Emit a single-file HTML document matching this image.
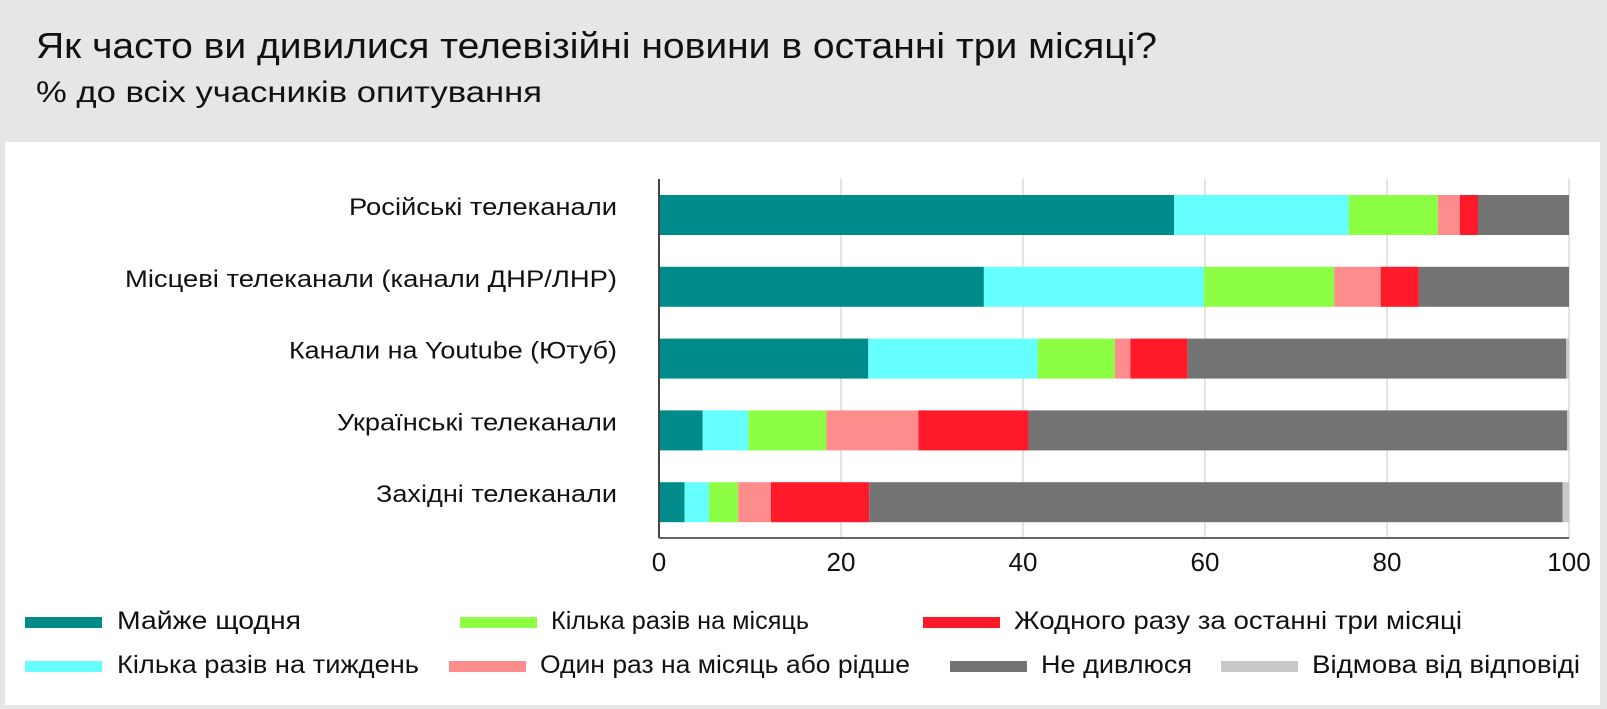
<!DOCTYPE html>
<html><head><meta charset="utf-8"><style>
html,body{margin:0;padding:0;background:#e6e6e6;}
svg{display:block;font-family:"Liberation Sans",sans-serif;}
</style></head><body>
<svg width="1607" height="709" viewBox="0 0 1607 709">
<rect x="0" y="0" width="1607" height="709" fill="#e6e6e6"/>
<text x="36" y="58" font-size="36" fill="#111" textLength="1121" lengthAdjust="spacingAndGlyphs">Як часто ви дивилися телевізійні новини в останні три місяці?</text>
<text x="36" y="102" font-size="30" fill="#111" textLength="506" lengthAdjust="spacingAndGlyphs">% до всіх учасників опитування</text>
<rect x="5" y="142" width="1595" height="563" fill="#fff"/>
<g id="grid"></g>
<g id="bars"></g>
<g id="labels"></g>
<g id="legend"></g>
</svg>
<script>
const categories=["Російські телеканали","Місцеві телеканали (канали ДНР/ЛНР)","Канали на Youtube (Ютуб)","Українські телеканали","Західні телеканали"];
const seriesNames=["Майже щодня","Кілька разів на тиждень","Кілька разів на місяць","Один раз на місяць або рідше","Жодного разу за останні три місяці","Не дивлюся","Відмова від відповіді"];
const almostDaily=[56.6,35.7,23.0,4.8,2.8];
const severalWeek=[19.2,24.2,18.6,5.0,2.7];
const severalMonth=[9.8,14.3,8.5,8.6,3.2];
const onceMonth=[2.4,5.1,1.7,10.1,3.6];
const never3m=[2.0,4.2,6.3,12.1,10.8];
const dontWatch=[10.0,16.5,41.6,59.2,76.2];
const refused=[0,0,0.3,0.2,0.7];
const ticks=[0,20,40,60,80,100];
const colors=["#008b8b","#66ffff","#8cff44","#ff8c8c","#ff1a2a","#737373","#c8c8c8"];
const labelWidths=[268,492,328,280,241];
const NS="http://www.w3.org/2000/svg";
const x0=659,x1=1569,yTop=179,yBot=538;
const xs=v=>x0+(x1-x0)*v/100;
const yRow=i=>195+i*71.8;
const barH=40;
function mk(tag,attrs,parent){const e=document.createElementNS(NS,tag);for(const k in attrs)e.setAttribute(k,attrs[k]);parent.appendChild(e);return e;}
const grid=document.getElementById('grid');
ticks.forEach(t=>{
  if(t>0){const l=mk('line',{x1:xs(t),x2:xs(t),y1:yTop,y2:yBot,stroke:'#dcdcdc','stroke-width':1.5},grid);
  
  }
  const tx=mk('text',{x:xs(t),y:571,'font-size':26,'text-anchor':'middle',fill:'#111'},grid);
  tx.textContent=t;
  
  
});
const series=[almostDaily,severalWeek,severalMonth,onceMonth,never3m,dontWatch,refused];
const bars=document.getElementById('bars');
categories.forEach((c,i)=>{
  let acc=0;
  series.forEach((s,j)=>{
    const v=s[i];
    if(v>0){const r=mk('rect',{x:xs(acc),y:yRow(i),width:xs(acc+v)-xs(acc),height:barH,fill:colors[j]},bars);
    
    }
    acc+=v;
  });
  const lb=mk('text',{x:617,y:yRow(i)+20,'font-size':24,'text-anchor':'end',fill:'#111',textLength:labelWidths[i],lengthAdjust:'spacingAndGlyphs'},document.getElementById('labels'));
  lb.textContent=c;
  
  
});
const ax=mk('line',{x1:x0,x2:x0,y1:yTop,y2:yBot,stroke:'#444','stroke-width':2},bars);


const axb=mk('line',{x1:x0,x2:x1,y1:yBot,y2:yBot,stroke:'#666','stroke-width':2},bars);


const legPos=[[25,617,117,184],[25,661,117,302],[460,617,551,258],[449,661,540,370],[923,617,1014,448],[950,661,1041,151],[1221,661,1312,268]];
const leg=document.getElementById('legend');
seriesNames.forEach((n,j)=>{
  const p=legPos[j];
  const g=mk('g',{},leg);
  
  
  mk('rect',{x:p[0],y:p[1],width:77,height:11,fill:colors[j]},g);
  const t=mk('text',{x:p[2],y:p[1]+12,'font-size':25,fill:'#111',textLength:p[3],lengthAdjust:'spacingAndGlyphs'},g);
  t.textContent=n;
});
</script>
</body></html>
